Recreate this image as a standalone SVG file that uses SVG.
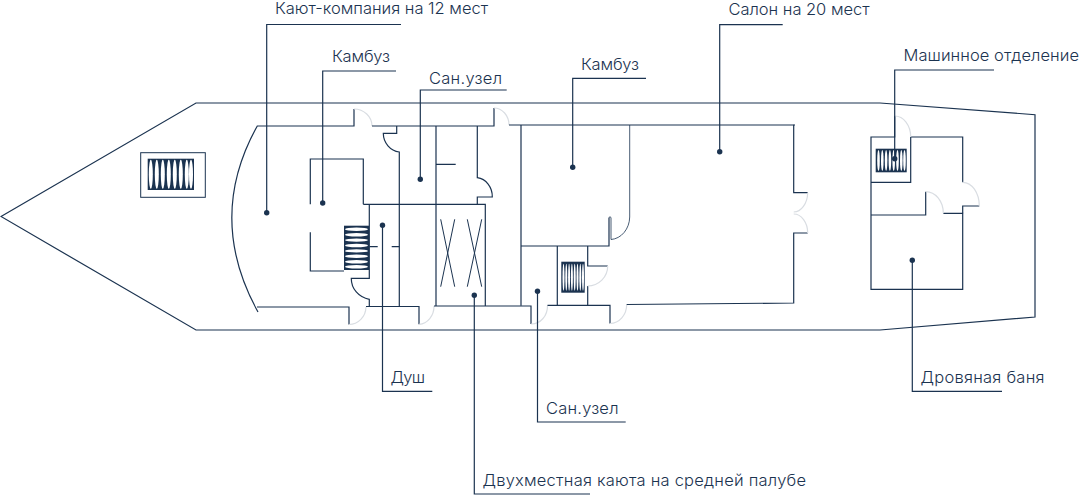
<svg xmlns="http://www.w3.org/2000/svg" width="1081" height="495" viewBox="0 0 1081 495">
<style>
.w{fill:none;stroke:#1b3350;stroke-width:1.2}
.d{fill:none;stroke:#d9dde2;stroke-width:1.2}
.l{fill:none;stroke:#1b3350;stroke-width:1.2}
.x{fill:none;stroke:#1b3350;stroke-width:1}
.dot{fill:#1b3350}
text{font-family:"Inter","Open Sans","Liberation Sans",sans-serif;font-size:16.5px;font-weight:300;fill:#1b3350}
</style>
<defs>
<ellipse id="ev" cx="0" cy="0" rx="2" ry="14.5" fill="#fff"/>
<ellipse id="eh" cx="0" cy="0" rx="11.5" ry="1.7" fill="#fff"/>
</defs>
<rect width="1081" height="495" fill="#fff"/>
<g id="hull">
<path class="w" d="M1 216.500L196 103H880L1035 114.700V317L880 330H196Z"/>
</g>
<g id="kayut-kompaniya">
<path class="w" d="M258 312Q206 218 257.300 126H354V109"/>
<path class="w" d="M257 307H349V324.500"/>
<path class="w" d="M310.300 204.300V159H363.300V204.300"/>
<path class="w" d="M310.300 232.300V271H344"/>
<path class="d" d="M354 109A18 17 0 0 1 372 126"/>
<path class="d" d="M349 324.500A17 18 0 0 0 366 307"/>
</g>
<g id="dush">
<path class="w" d="M363.300 204.300H485.300V306"/>
<path class="w" d="M369.300 204.300V278.300H351.300A22 21 0 0 0 369.300 299.300V306.500"/>
<path class="w" d="M369.300 246.700H377.700M391.700 246.700H399.300"/>
<path class="w" d="M366 306.500H419V324.300"/>
<path class="d" d="M419 324.300A16 18 0 0 0 434 306"/>
</g>
<g id="san-uzel-1">
<path class="w" d="M372 126H494V108"/>
<path class="w" d="M396.700 126V133.300H383.300A18 19 0 0 0 399.300 152V306.500"/>
<path class="w" d="M436 126V306M436 164.300H455.700"/>
<path class="w" d="M477.300 126V177.700A17 19 0 0 1 492.300 197H477.300V204.300"/>
<path class="d" d="M494 108A15 17 0 0 1 509 125"/>
</g>
<g id="kayuta">
<path class="x" d="M440.700 219.300L454.700 286.700M454.700 219.300L440.700 286.700M467.300 219.300L481.700 286.700M481.700 219.300L467.300 286.700"/>
<path class="w" d="M434 306H531V324"/>
<path class="d" d="M531 324A16 18 0 0 0 547.500 305.500"/>
</g>
<g id="kambuz-2">
<path class="w" d="M509 125H795"/>
<path class="w" d="M521 125V305.700M521 246H609V217.500"/>
<path class="x" style="stroke-width:.8" d="M609 217.500Q610 216 611 217.500V239.500A20 23 0 0 0 629.700 217V125"/>
</g>
<g id="san-uzel-2">
<path class="w" d="M557.300 246V305M587.700 246V266H607.700"/>
<path class="w" d="M587.700 286V305"/>
<path class="d" d="M607.700 266A20 20 0 0 1 587.700 286"/>
<path class="w" d="M547.500 305.300H610V323.500"/>
<path class="d" d="M610 323.500A17 19 0 0 0 626.700 304.500"/>
</g>
<g id="salon">
<path class="w" d="M626.700 304.500L793.700 303V233H807.700"/>
<path class="w" d="M807.700 192.700H793.700V124.700"/>
<path class="d" d="M807.700 233A14 19 0 0 0 793.700 214M793.700 212A14 20 0 0 0 807.700 192.700"/>
</g>
<g id="banya">
<path class="w" d="M894.700 116V137H871V289.300H962.700V213.300H943.300"/>
<path class="w" d="M910.700 137H962.700V182.300M910.700 137V182.300H871M871 215H925.700V191.700M979.300 206H962.700V213.300"/>
<path class="d" d="M894.700 116A16 21 0 0 1 910.700 137M925.700 191.700A17.500 21.500 0 0 1 943.300 213.300M962.700 182.300A16.500 23.700 0 0 1 979.300 206"/>
</g>
<g id="stair-bow">
<rect class="x" x="140.700" y="152.700" width="64.600" height="44.600"/>
<rect x="147.700" y="158.700" width="46.300" height="31.300" fill="#1b3350"/>
<use href="#ev" x="150.800" y="174.300"/><use href="#ev" x="156.800" y="174.300"/><use href="#ev" x="162.800" y="174.300"/><use href="#ev" x="168.800" y="174.300"/><use href="#ev" x="174.800" y="174.300"/><use href="#ev" x="180.800" y="174.300"/><use href="#ev" x="186.800" y="174.300"/><use href="#ev" x="191" y="174.300"/>
</g>
<g id="stair-left">
<rect x="344" y="225.700" width="25" height="44.300" fill="#1b3350"/>
<use href="#eh" x="356.500" y="229.300"/><use href="#eh" x="356.500" y="234.700"/><use href="#eh" x="356.500" y="240.100"/><use href="#eh" x="356.500" y="245.500"/><use href="#eh" x="356.500" y="250.900"/><use href="#eh" x="356.500" y="256.300"/><use href="#eh" x="356.500" y="261.700"/><use href="#eh" x="356.500" y="266.700"/>
</g>
<g id="stair-mid">
<rect x="561.300" y="261.700" width="23.400" height="31" fill="#1b3350"/>
<g fill="#fff"><ellipse cx="563.500" cy="277.200" rx="1" ry="13.500"/><ellipse cx="566.300" cy="277.200" rx="1" ry="13.500"/><ellipse cx="569.100" cy="277.200" rx="1" ry="13.500"/><ellipse cx="571.900" cy="277.200" rx="1" ry="13.500"/><ellipse cx="574.700" cy="277.200" rx="1" ry="13.500"/><ellipse cx="577.500" cy="277.200" rx="1" ry="13.500"/><ellipse cx="580.300" cy="277.200" rx="1" ry="13.500"/><ellipse cx="583" cy="277.200" rx="1" ry="13.500"/></g>
</g>
<g id="stair-engine">
<rect x="875.700" y="148.700" width="31" height="23.600" fill="#1b3350"/>
<g fill="#fff"><ellipse cx="878.500" cy="160.500" rx="1.300" ry="10.500"/><ellipse cx="882.300" cy="160.500" rx="1.300" ry="10.500"/><ellipse cx="886.100" cy="160.500" rx="1.300" ry="10.500"/><ellipse cx="889.900" cy="160.500" rx="1.300" ry="10.500"/><ellipse cx="893.700" cy="160.500" rx="1.300" ry="10.500"/><ellipse cx="897.500" cy="160.500" rx="1.300" ry="10.500"/><ellipse cx="901.300" cy="160.500" rx="1.300" ry="10.500"/><ellipse cx="904.500" cy="160.500" rx="1.300" ry="10.500"/></g>
</g>
<g id="connectors">
<path class="l" d="M266.700 212.700V24.500H401"/>
<path class="l" d="M322.700 203V71H396"/>
<path class="l" d="M420.300 179.300V90H506.700"/>
<path class="l" d="M572.700 167.300V78.300H646"/>
<path class="l" d="M719.700 151.700V24.700H782.700"/>
<path class="l" d="M894.700 158.700V70H994"/>
<path class="l" d="M382.500 225.300V391.300H432.300"/>
<path class="l" d="M537.500 291.300V422H625.700"/>
<path class="l" d="M474.300 295.300V494H590"/>
<path class="l" d="M912.300 260.300V391.300H1002"/>
<circle class="dot" cx="266.700" cy="212.700" r="2.700"/><circle class="dot" cx="322.700" cy="203" r="2.700"/><circle class="dot" cx="420.300" cy="179.300" r="2.700"/><circle class="dot" cx="572.700" cy="167.300" r="2.700"/><circle class="dot" cx="719.700" cy="151.700" r="2.700"/><circle class="dot" cx="894.700" cy="158.700" r="2.700"/><circle class="dot" cx="382.500" cy="225.300" r="2.700"/><circle class="dot" cx="537.500" cy="291.300" r="2.700"/><circle class="dot" cx="474.300" cy="295.300" r="2.700"/><circle class="dot" cx="912.300" cy="260.300" r="2.700"/>
</g>
<g id="labels">
<text x="275" y="14" textLength="213">Кают-компания на 12 мест</text>
<text x="332" y="62" textLength="58">Камбуз</text>
<text x="429" y="84" textLength="73">Сан.узел</text>
<text x="581" y="69.500" textLength="58">Камбуз</text>
<text x="728.500" y="15" textLength="141">Салон на 20 мест</text>
<text x="903.500" y="60.500" textLength="175.500">Машинное отделение</text>
<text x="390.500" y="383" textLength="34.500">Душ</text>
<text x="920.500" y="382.500" textLength="124">Дровяная баня</text>
<text x="546" y="414" textLength="72.500">Сан.узел</text>
<text x="482.500" y="486" textLength="323.500">Двухместная каюта на средней палубе</text>
</g>
</svg>
